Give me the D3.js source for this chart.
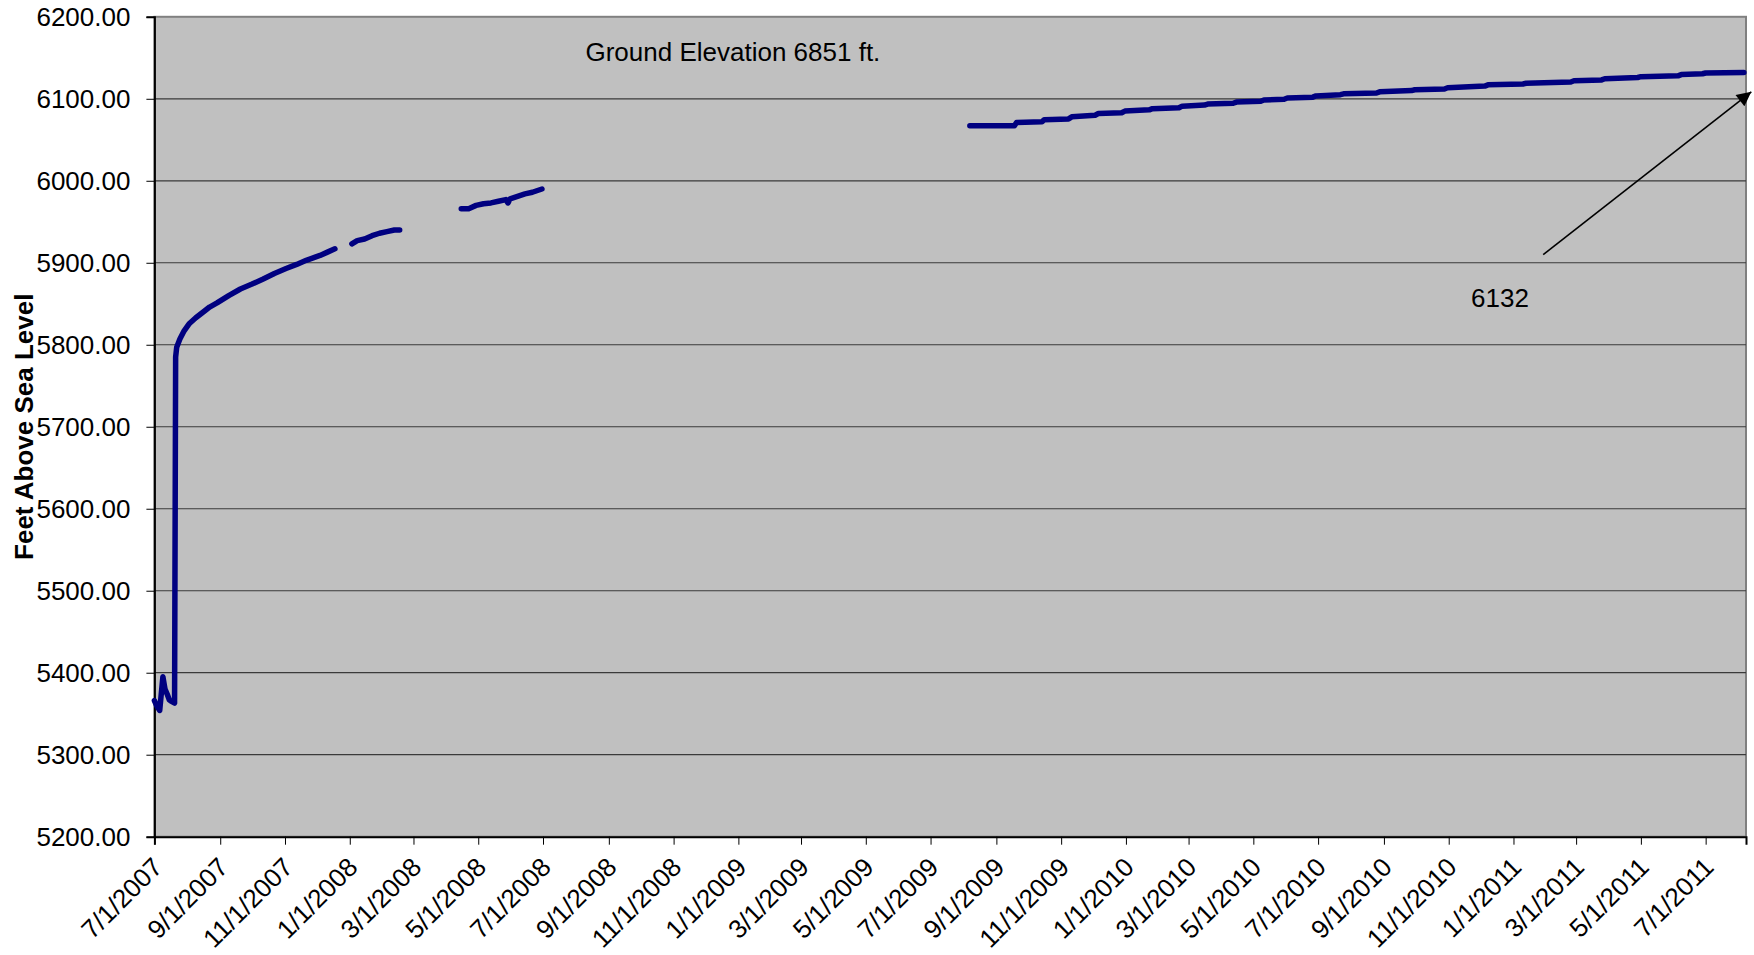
<!DOCTYPE html>
<html>
<head>
<meta charset="utf-8">
<script src="https://cdn.jsdelivr.net/npm/d3@7"></script>
<style>
  html, body { margin: 0; padding: 0; background: #ffffff; }
  svg { display: block; font-family: "Liberation Sans", Arial, sans-serif; }
</style>
</head>
<body>
<svg id="chart" width="1754" height="955"></svg>
<script>
// ---- data ----
const seriesDates = [
  "2007-07-01","2007-07-03","2007-07-06","2007-07-09","2007-07-11","2007-07-13","2007-07-15","2007-07-17","2007-07-20",
  "2007-07-21","2007-07-22","2007-07-25","2007-07-29","2007-08-03","2007-08-09","2007-08-16","2007-08-22","2007-08-29",
  "2007-09-09","2007-09-20","2007-10-01","2007-10-11","2007-10-22","2007-11-02","2007-11-12","2007-11-21","2007-12-04",
  "2007-12-11","2007-12-18",
  "2007-12-27",
  "2008-01-03","2008-01-08","2008-01-15","2008-01-22","2008-01-29","2008-02-05","2008-02-12","2008-02-17",
  "2008-03-15",
  "2008-04-15","2008-04-22","2008-04-29","2008-05-06","2008-05-13","2008-05-20","2008-05-27","2008-05-29","2008-05-31",
  "2008-06-07","2008-06-14","2008-06-21","2008-06-30",
  "2009-01-01",
  "2009-08-07","2009-09-18","2009-09-20","2009-10-14","2009-10-16","2009-11-08","2009-11-11","2009-12-03","2009-12-06",
  "2009-12-28","2009-12-31","2010-01-23","2010-01-26","2010-02-20","2010-02-23","2010-03-16","2010-03-19","2010-04-12",
  "2010-04-15","2010-05-08","2010-05-11","2010-05-30","2010-06-02","2010-06-26","2010-06-29","2010-07-22","2010-07-25",
  "2010-08-25","2010-08-28","2010-09-27","2010-09-30","2010-10-28","2010-10-31","2010-12-05","2010-12-08","2011-01-10",
  "2011-01-13","2011-02-24","2011-02-27","2011-03-25","2011-03-28","2011-04-28","2011-05-01","2011-06-05","2011-06-08",
  "2011-06-28","2011-07-01","2011-08-06"
];
const seriesValues = [
  5366,5360,5354,5395,5380,5374,5367,5365,5363,
  5785,5797,5807,5817,5826,5833,5840,5846,5851,
  5860,5868,5874,5880,5887,5893,5898,5903,5909,
  5913,5917,
  null,
  5923,5927,5929,5933,5936,5938,5940,5940,
  null,
  5966,5966,5970,5972,5973,5975,5977,5973,5978,
  5981,5984,5986,5990,
  null,
  6067,6067,6071,6072,6074.5,6075.5,6078,6080,6082,
  6083,6085,6086.5,6088,6089,6091,6092.3,6093.5,6094.5,
  6096,6097,6098.5,6099.5,6101,6102,6103.5,6105,6106,
  6107,6108.5,6110,6111,6112,6113.5,6115.5,6117,6118,
  6119,6120.5,6122,6123,6124.5,6126,6127,6128,6129.5,
  6130.5,6131.5,6132
];
const xTickLabels = ["7/1/2007","9/1/2007","11/1/2007","1/1/2008","3/1/2008","5/1/2008","7/1/2008","9/1/2008",
  "11/1/2008","1/1/2009","3/1/2009","5/1/2009","7/1/2009","9/1/2009","11/1/2009","1/1/2010","3/1/2010",
  "5/1/2010","7/1/2010","9/1/2010","11/1/2010","1/1/2011","3/1/2011","5/1/2011","7/1/2011"];
const yTickValues = [5200,5300,5400,5500,5600,5700,5800,5900,6000,6100,6200];
const xDomain = ["2007-07-01","2011-08-08"];
const yDomain = [5200, 6200];
const yTitle = "Feet Above Sea Level";
const noteText = "Ground Elevation 6851 ft.";
const noteAt = ["2008-08-10", 6146];
const arrowLabel = "6132";
const arrowLabelAt = ["2010-11-22", 5846];
const arrowFrom = ["2011-01-29", 5910];
const arrowTo = ["2011-08-13", 6108.5];

// ---- layout ----
const W = 1754, H = 955;
const m = {left: 154.4, right: W - 1746, top: 16.8, bottom: H - 836.7};
const parse = d3.utcParse("%Y-%m-%d");
const parseTick = d3.utcParse("%m/%d/%Y");

const svg = d3.select("#chart");
const x = d3.scaleUtc().domain(xDomain.map(parse)).range([m.left, W - m.right]);
const y = d3.scaleLinear().domain(yDomain).range([H - m.bottom, m.top]);

const FS = 26;

// plot background
svg.append("rect")
  .attr("x", m.left).attr("y", m.top)
  .attr("width", W - m.right - m.left).attr("height", H - m.bottom - m.top)
  .attr("fill", "#C0C0C0").attr("stroke", "#808080").attr("stroke-width", 2);

// gridlines
svg.append("g").selectAll("line")
  .data(yTickValues.filter(v => v !== yDomain[0] && v !== yDomain[1]))
  .join("line")
  .attr("x1", m.left).attr("x2", W - m.right)
  .attr("y1", d => y(d)).attr("y2", d => y(d))
  .attr("stroke", "#3a3a3a").attr("stroke-width", 1.2);

// y axis
const yAxis = svg.append("g")
  .attr("transform", `translate(${m.left},0)`)
  .call(d3.axisLeft(y).tickValues(yTickValues).tickFormat(d3.format(".2f")).tickSize(8).tickPadding(16));
yAxis.select(".domain").attr("stroke", "#000").attr("stroke-width", 2);
yAxis.selectAll(".tick line").attr("stroke", "#000").attr("stroke-width", 1);
yAxis.selectAll("text").attr("font-size", FS).attr("fill", "#000")
  .attr("font-family", '"Liberation Sans", Arial, sans-serif');

// x axis
const tickDates = xTickLabels.map(parseTick);
const xAxis = svg.append("g")
  .attr("transform", `translate(0,${H - m.bottom})`)
  .call(d3.axisBottom(x).tickValues(tickDates).tickSize(8).tickFormat(""));
xAxis.select(".domain").attr("stroke", "#000").attr("stroke-width", 2);
xAxis.selectAll(".tick line").attr("stroke", "#000").attr("stroke-width", 1);
xAxis.selectAll(".tick").append("text")
  .attr("transform", "translate(9,32) rotate(-45)")
  .attr("text-anchor", "end")
  .attr("fill", "#000")
  .attr("font-size", FS)
  .attr("font-family", '"Liberation Sans", Arial, sans-serif')
  .text((d, i) => xTickLabels[i]);

// y axis title
svg.append("text")
  .attr("transform", `translate(33,${(m.top + H - m.bottom) / 2}) rotate(-90)`)
  .attr("text-anchor", "middle")
  .attr("font-size", FS).attr("font-weight", "bold")
  .attr("fill", "#000")
  .text(yTitle);

// series line
const pts = seriesDates.map((d, i) => ({date: parse(d), v: seriesValues[i]}));
const line = d3.line()
  .defined(d => d.v !== null)
  .x(d => x(d.date)).y(d => y(d.v))
  .curve(d3.curveLinear);
svg.append("path")
  .datum(pts)
  .attr("d", line)
  .attr("fill", "none")
  .attr("stroke", "#000080")
  .attr("stroke-width", 5.5)
  .attr("stroke-linejoin", "round")
  .attr("stroke-linecap", "round");

// note text
svg.append("text")
  .attr("x", x(parse(noteAt[0]))).attr("y", y(noteAt[1]))
  .attr("font-size", FS).attr("fill", "#000")
  .text(noteText);

// arrow annotation
svg.append("defs").append("marker")
  .attr("id", "ah").attr("viewBox", "0 0 10 10")
  .attr("refX", 10).attr("refY", 5)
  .attr("markerWidth", 10).attr("markerHeight", 9)
  .attr("markerUnits", "strokeWidth")
  .attr("orient", "auto")
  .append("path").attr("d", "M0,0 L10,5 L0,10 Z").attr("fill", "#000");
svg.append("line")
  .attr("x1", x(parse(arrowFrom[0]))).attr("y1", y(arrowFrom[1]))
  .attr("x2", x(parse(arrowTo[0]))).attr("y2", y(arrowTo[1]))
  .attr("stroke", "#000").attr("stroke-width", 1.6)
  .attr("marker-end", "url(#ah)");
svg.append("text")
  .attr("x", x(parse(arrowLabelAt[0]))).attr("y", y(arrowLabelAt[1]))
  .attr("font-size", FS).attr("fill", "#000")
  .text(arrowLabel);
</script>
</body>
</html>
